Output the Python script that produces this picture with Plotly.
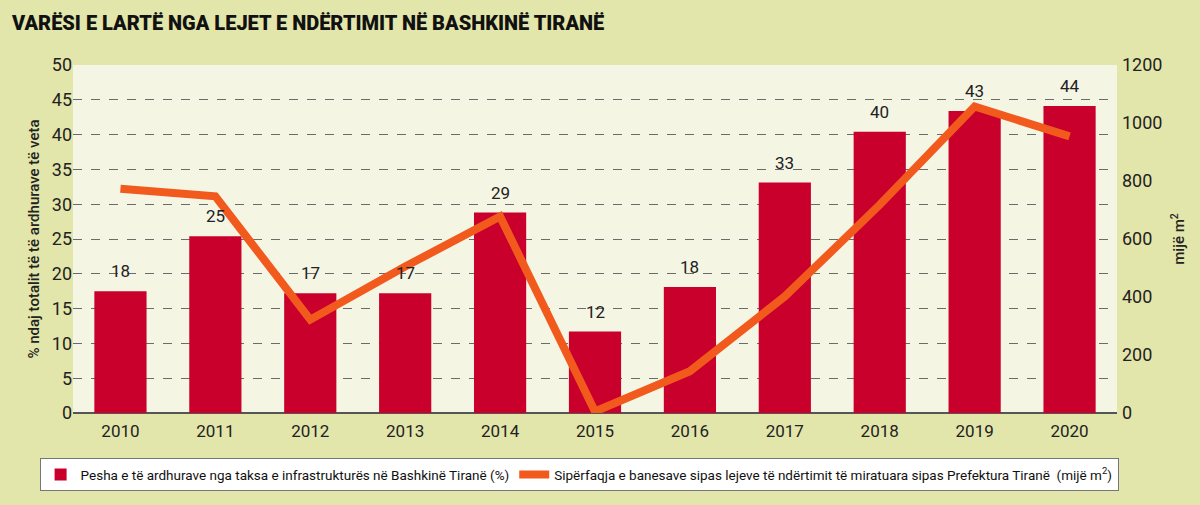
import plotly.graph_objects as go

years = ["2010", "2011", "2012", "2013", "2014", "2015", "2016", "2017", "2018", "2019", "2020"]
share_pct = [17.5, 25.4, 17.2, 17.2, 28.8, 11.7, 18.1, 33.1, 40.4, 43.4, 44.1]
share_labels = ["18", "25", "17", "17", "29", "12", "18", "33", "40", "43", "44"]
area_k_m2 = [773, 747, 322, 505, 678, 5, 144, 402, 718, 1057, 954]

FONT = "Roboto, Liberation Sans, sans-serif"
RED = "#c8002b"
ORANGE = "#f25a1d"

fig = go.Figure()
fig.add_bar(
    x=years, y=share_pct, marker_color=RED, marker_line_width=0,
    name="Pesha e të ardhurave nga taksa e infrastrukturës në Bashkinë Tiranë (%)",
)
fig.add_scatter(
    x=years, y=area_k_m2, yaxis="y2", mode="lines",
    line=dict(color=ORANGE, width=8),
    name="Sipërfaqja e banesave sipas lejeve të ndërtimit të miratuara sipas Prefektura Tiranë  (mijë m<sup>2</sup>)",
)

# vlerat mbi shtylla (x = indeksi i kategorisë)
for i, (v, lab) in enumerate(zip(share_pct, share_labels)):
    fig.add_annotation(x=i, y=v, text=lab, showarrow=False, yshift=20,
                       font=dict(size=17, color="#222", family=FONT))

fig.update_layout(
    width=1200, height=505,
    margin=dict(l=73, r=83, t=65, b=92, autoexpand=False),
    paper_bgcolor="#e2e6aa", plot_bgcolor="#f5f5e4",
    font=dict(family=FONT, color="#222", size=17),
    title=dict(text="VARËSI E LARTË NGA LEJET E NDËRTIMIT NË BASHKINË TIRANË",
               x=0.01, xanchor="left", y=0.955, yanchor="middle",
               font=dict(size=20, color="#111", family=FONT, weight=900)),
    bargap=0.45,
    showlegend=True,
    legend=dict(orientation="h", x=-0.032, xanchor="left", y=-0.13, yanchor="top",
                bgcolor="white", bordercolor="#777", borderwidth=1,
                font=dict(size=13.5, family=FONT, color="#111")),
    xaxis=dict(type="category", range=[-0.5, len(years) - 0.5], showgrid=False, ticks="",
               tickfont=dict(size=17), ticklabelstandoff=6),
    yaxis=dict(range=[0, 50], dtick=5, showgrid=True, gridcolor="#6b6b6b", griddash="dash",
               gridwidth=1, zeroline=True, zerolinecolor="#555", zerolinewidth=1.5,
               tickfont=dict(size=18), ticks="",
               title=dict(text="% ndaj totalit të të ardhurave të veta",
                          font=dict(size=15, weight=500), standoff=8)),
    yaxis2=dict(range=[0, 1200], dtick=200, overlaying="y", side="right", showgrid=False,
                zeroline=False, tickfont=dict(size=18), ticklabelstandoff=4,
                title=dict(text="mijë m<sup>2</sup>", font=dict(size=15, weight=500), standoff=12)),
)

fig.write_html("out.html", config={"displayModeBar": False},
               post_script="document.body.style.margin='0';")
